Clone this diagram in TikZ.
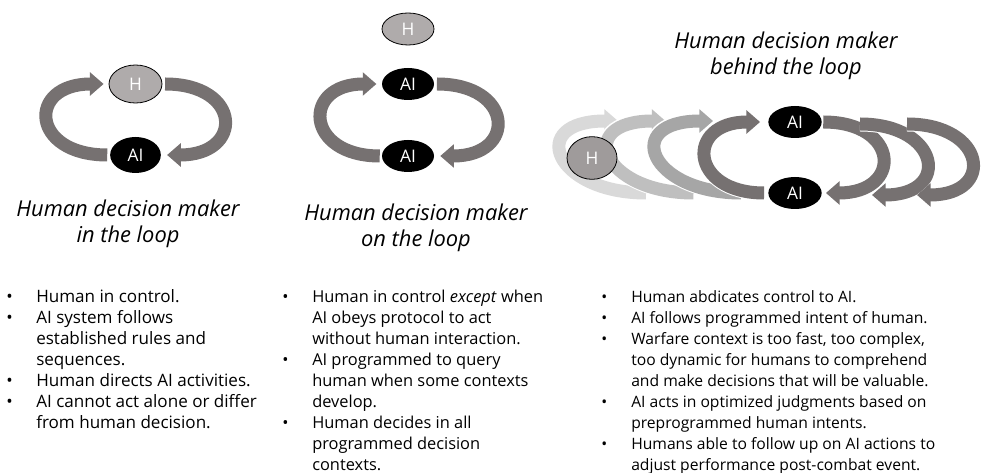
\documentclass[tikz,border=0pt]{standalone}
\usepackage{fontspec}
\setmainfont{Open Sans}
\usetikzlibrary{arrows.meta,shapes.geometric,backgrounds}

\definecolor{loopgray}{HTML}{767171}
\definecolor{humangray}{HTML}{AFABAB}
\definecolor{humandark}{HTML}{9F9B9B}
\definecolor{fadeone}{HTML}{D9D9D9}
\definecolor{fadetwo}{HTML}{BFBFBF}
\definecolor{fadethree}{HTML}{A6A6A6}

\newlength{\bulletindent}
\setlength{\bulletindent}{22.5pt}
\newcommand{\bitem}[1]{\par\noindent\hangindent=\bulletindent\hangafter=1\makebox[\bulletindent][l]{\textbullet}#1}

\tikzset{
  agent/.style={ellipse, fill=black, text=white, inner sep=0pt, minimum width=39pt, minimum height=24pt, font=\fontsize{13}{15}\selectfont},
  human/.style={agent, fill=humangray, draw=black, line width=0.6pt},
  loop arrow/.style={draw=#1, line width=9.75pt, -{Triangle[width=0pt 1.75,length=0pt 1.05]}, preaction={draw=white, line width=11.25pt}},
  loop arrow/.default=loopgray,
  title/.style={anchor=base, align=center, font=\itshape\fontsize{16.4}{19.5}\selectfont},
  bullets/.style={anchor=base west, inner sep=0pt, font=\fontsize{#1}{15.75}\selectfont},
  bullets/.default=12,
}

\begin{document}
\begin{tikzpicture}[x=0.75pt, y=-0.75pt]
\useasboundingbox (0,0) rectangle (981,473);
% Parameters
\def\bend{77}
\def\fadebend{92}

% In the loop
\node[human, minimum width=39.75pt, minimum height=28.5pt] (h1) at (135.5,84) {H};
\node[agent, minimum width=38pt, minimum height=27pt] (ai1) at (135.5,155) {AI};

% On the loop
\node[human] (h2) at (408,29) {H};
\node[agent] (ai2t) at (408,84) {AI};
\node[agent] (ai2b) at (408,156) {AI};

% Behind the loop
\node[human, fill=humandark, minimum width=37.5pt, minimum height=32pt] (h3) at (592,158) {H};
\node[agent, minimum width=40pt] (ai3t) at (795,122) {AI};
\node[agent, minimum width=40pt] (ai3b) at (795,193) {AI};

\coordinate (tip1) at (618,121);
\coordinate (tail1) at (646,193);
\coordinate (tip2) at (665.5,121);
\coordinate (tail2) at (693.5,193);
\coordinate (tip3) at (713,121);
\coordinate (tail3) at (741,193);
\coordinate (startB) at (860,124);
\coordinate (tipB) at (872,195);
\coordinate (startC) at (907,124);
\coordinate (tipC) at (917,195);

% Arrows
\begin{scope}[on background layer]
\draw[loop arrow] ([xshift=-2pt]ai1.west) .. controls +(-\bend,0) and +(-\bend,0) .. ([xshift=-3.75pt]h1.west);
\draw[loop arrow] ([xshift=2pt]h1.east) .. controls +(\bend,0) and +(\bend,0) .. ([xshift=4.5pt]ai1.east);

\draw[loop arrow] ([xshift=-1.5pt]ai2b.west) .. controls +(-75,0) and +(-75,0) .. ([xshift=-4pt]ai2t.west);
\draw[loop arrow] ([xshift=2pt]ai2t.east) .. controls +(\bend,0) and +(\bend,0) .. ([xshift=4.5pt]ai2b.east);

\draw[loop arrow=fadeone] (tail1) .. controls +(-\fadebend,0) and +(-\fadebend,0) .. (tip1);
\draw[loop arrow=fadetwo] (tail2) .. controls +(-\fadebend,0) and +(-\fadebend,0) .. (tip2);
\draw[loop arrow=fadethree] (tail3) .. controls +(-\fadebend,0) and +(-\fadebend,0) .. (tip3);
\draw[loop arrow] ([xshift=-3pt]ai3b.west) .. controls +(-75,0) and +(-75,0) .. ([xshift=-6pt]ai3t.west);

\draw[loop arrow] ([xshift=1pt]ai3t.east) .. controls +(\bend,0) and +(\bend,0) .. ([xshift=3pt]ai3b.east);
\draw[loop arrow] (startB) .. controls +(80,0) and +(80,0) .. (tipB);
\draw[loop arrow] (startC) .. controls +(79,0) and +(79,0) .. (tipC);
\end{scope}

% Titles (anchored on the last line)
\node[title] (in title) at (128,243) {Human decision maker\\in the loop};
\node[title] (on title) at (416,247) {Human decision maker\\on the loop};
\node[title] (behind title) at (786,75) {Human decision maker\\behind the loop};

% Bullets
\node[bullets=12.8] (in text) at (6,303) {\begin{minipage}[t]{300pt}
\bitem{Human in control.}
\bitem{AI system follows\\established rules and\\sequences.}
\bitem{Human directs AI activities.}
\bitem{AI cannot act alone or differ\\from human decision.}
\end{minipage}};
\node[bullets=12.3] (on text) at (282,303) {\begin{minipage}[t]{300pt}
\bitem{Human in control \textit{except} when\\AI obeys protocol to act\\without human interaction.}
\bitem{AI programmed to query\\human when some contexts\\develop.}
\bitem{Human decides in all\\programmed decision\\contexts.}
\end{minipage}};
\node[bullets=11.75] (behind text) at (601,303) {\begin{minipage}[t]{300pt}
\bitem{Human abdicates control to AI.}
\bitem{AI follows programmed intent of human.}
\bitem{Warfare context is too fast, too complex,\\too dynamic for humans to comprehend\\and make decisions that will be valuable.}
\bitem{AI acts in optimized judgments based on\\preprogrammed human intents.}
\bitem{Humans able to follow up on AI actions to\\adjust performance post-combat event.}
\end{minipage}};
\end{tikzpicture}
\end{document}
